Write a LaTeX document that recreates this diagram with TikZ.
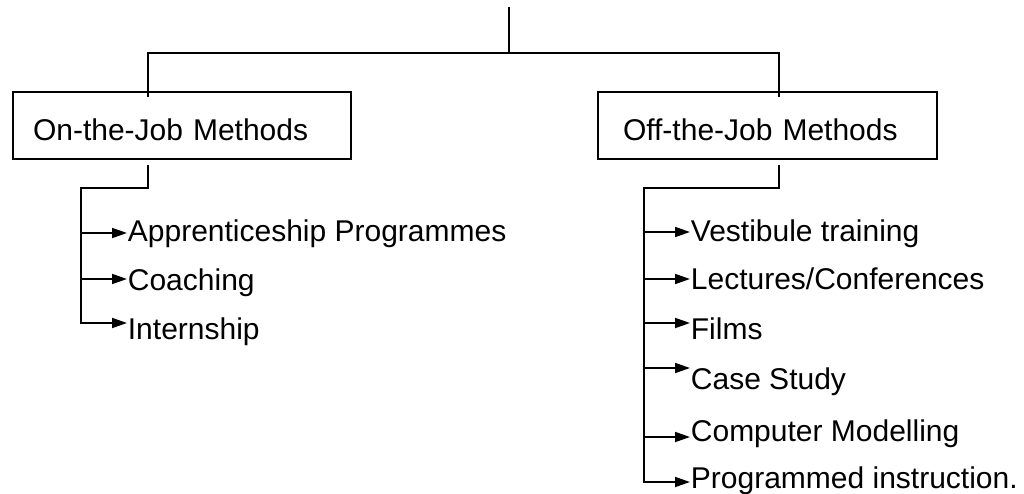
\documentclass[tikz,border=0pt]{standalone}
\usepackage{fontspec}
\setmainfont{Liberation Sans}
\usetikzlibrary{arrows.meta}
\begin{document}
\begin{tikzpicture}[x=1pt,y=-1pt,
  line width=1.8pt,
  every node/.style={font=\fontsize{30}{36}\selectfont},
  groupbox/.style={draw, line width=1.8pt, inner xsep=0pt, inner ysep=0pt,
    minimum height=67pt, align=left, text height=31pt, text depth=0pt},
  item/.style={anchor=base west, inner sep=0pt},
  arr/.style={arrows={-Triangle[length=15pt, width=10pt]}}
]
\useasboundingbox (0,0) rectangle (1024,494);

% the two method groups
\node[groupbox, minimum width=338pt, text width=298pt] (lbox) at (182,125.5) {On-the-Job Methods};
\node[groupbox, minimum width=339pt, text width=289pt] (rbox) at (767.5,125.5) {Off-the-Job Methods};

% on-the-job methods
\node[item] (l1) at (127,241) {Apprenticeship Programmes};
\node[item] (l2) at (127,290) {Coaching};
\node[item] (l3) at (127,339) {Internship};

% off-the-job methods
\node[item] (r1) at (690,241) {Vestibule training};
\node[item] (r2) at (690,289) {Lectures/Conferences};
\node[item] (r3) at (690,339) {Films};
\node[item] (r4) at (690,389) {Case Study};
\node[item] (r5) at (690,441) {Computer Modelling};
\node[item] (r6) at (690,488) {Programmed instruction.};

% root branching to the two groups
\coordinate (root) at (509,7);
\coordinate (hub) at (509,53);
\coordinate (lfeed) at (148,97);
\coordinate (rfeed) at (779,97);
\draw (root) -- (hub);
\draw (lfeed) |- (hub) -| (rfeed);

% left tree
\coordinate (lout) at (148,165);
\coordinate (ltrunk) at (81,188);
\draw[arr] (lout) |- (ltrunk) |- (l3.west |- 0,323);
\draw[arr] (81,233) -- (l1.west |- 0,233);
\draw[arr] (81,279) -- (l2.west |- 0,279);

% right tree
\coordinate (rout) at (779,165);
\coordinate (rtrunk) at (644,188);
\draw[arr] (rout) |- (rtrunk) |- (r6.west |- 0,482);
\draw[arr] (644,232) -- (r1.west |- 0,232);
\draw[arr] (644,279) -- (r2.west |- 0,279);
\draw[arr] (644,323) -- (r3.west |- 0,323);
\draw[arr] (644,368) -- (r4.west |- 0,368);
\draw[arr] (644,437) -- (r5.west |- 0,437);
\end{tikzpicture}
\end{document}
